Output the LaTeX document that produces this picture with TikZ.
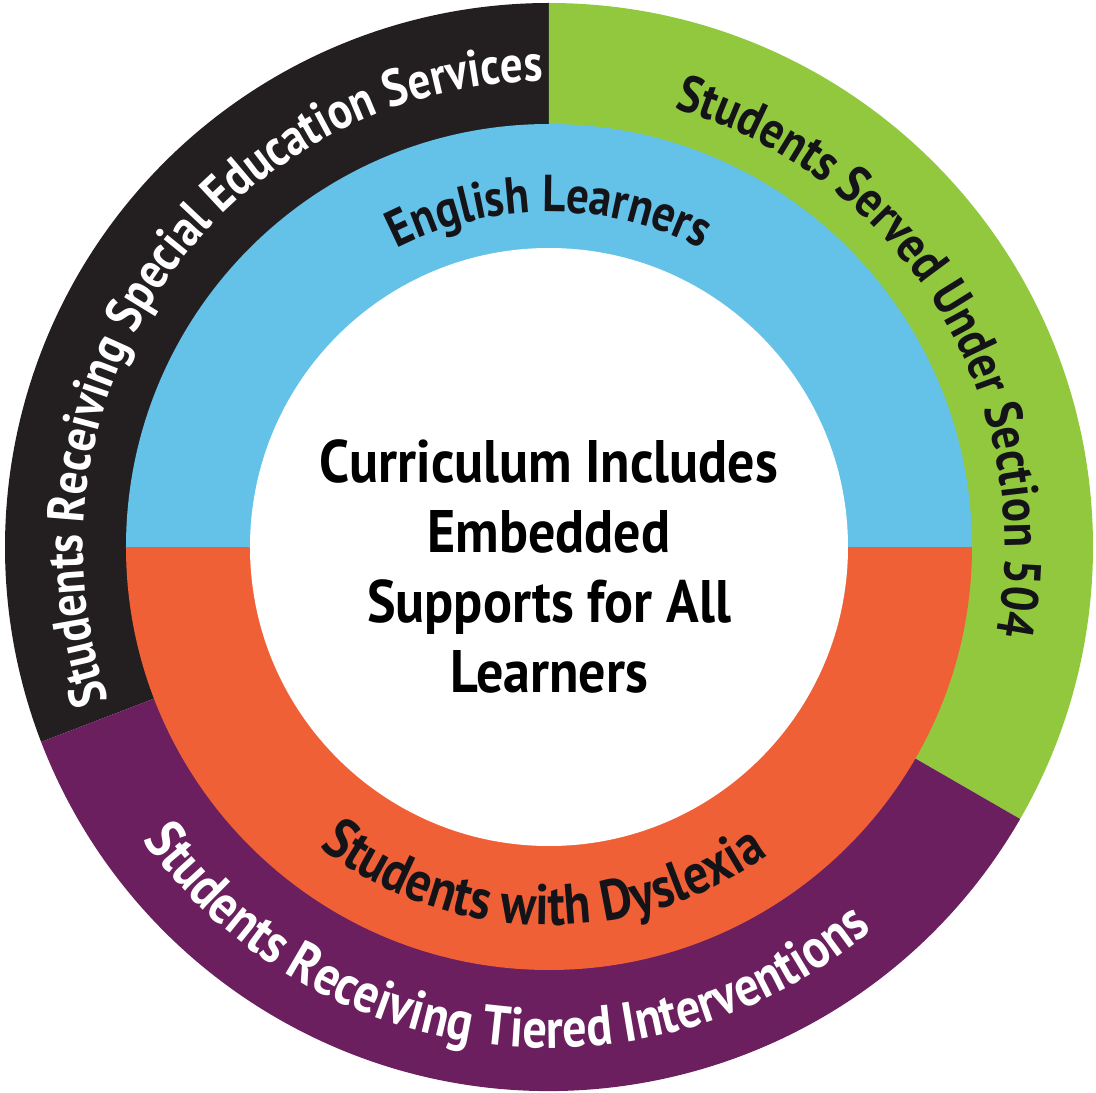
\documentclass[tikz,border=0pt]{standalone}
\usepackage{fontspec}
\setmainfont{PT Sans}
\newfontfamily\ringfont[FakeStretch=0.86]{PT Sans}
\newfontfamily\corefont[FakeStretch=0.9]{PT Sans}
\newcommand{\outerface}{\ringfont\bfseries\fontsize{52}{60}\selectfont}
\newcommand{\tierface}{\ringfont\bfseries\fontsize{56}{60}\selectfont}
\newcommand{\learnface}{\ringfont\bfseries\fontsize{52}{60}\selectfont}
\newcommand{\dysface}{\ringfont\bfseries\fontsize{57}{60}\selectfont}
\definecolor{segblack}{RGB}{35,31,32}
\definecolor{seggreen}{RGB}{146,200,62}
\definecolor{segpurple}{RGB}{107,31,94}
\definecolor{segblue}{RGB}{100,193,232}
\definecolor{segorange}{RGB}{240,96,55}
\definecolor{labeldark}{RGB}{20,20,24}
\usetikzlibrary{decorations.text}

\begin{document}
\begin{tikzpicture}[x=1pt,y=1pt,
  ringtext/.style 2 args={decorate,decoration={text along path,
    text align=center,text color=#1,text={#2}}}
  ]
  \useasboundingbox (-549,-546) rectangle (547,547);

  % the outer ring
  \fill[segblack] (0,0) -- (201:544) arc[start angle=201,end angle=90,radius=544] -- cycle;
  \fill[seggreen] (0,0) -- (90:544) arc[start angle=90,end angle=-30,radius=544] -- cycle;
  \fill[segpurple] (0,0) -- (-30:544) arc[start angle=-30,end angle=-159,radius=544] -- cycle;

  % the inner ring
  \fill[segblue] (0:423) arc[start angle=0,end angle=180,radius=423] -- cycle;
  \fill[segorange] (180:423) arc[start angle=180,end angle=360,radius=423] -- cycle;

  % the core
  \fill[white] (0,0) circle[radius=299];
  \node[align=center,inner sep=0pt,font=\corefont\bfseries\fontsize{60}{70}\selectfont] (core) at (0,-19)
    {Curriculum Includes\\Embedded\\Supports for All\\Learners};

  % the outer labels
  \path[ringtext={white}{|\outerface|Students Receiving Special Education Services}]
    (215:466) arc[start angle=215,end angle=75,radius=466];
  \path[ringtext={labeldark}{|\outerface|Students Served Under Section 504}]
    (100:456) arc[start angle=100,end angle=-37,radius=456];
  \path[ringtext={white}{|\tierface|Students Receiving Tiered Interventions}]
    (-172:501) arc[start angle=-172,end angle=-22,radius=501];

  % the inner labels
  \path[ringtext={labeldark}{|\learnface|English Learners}]
    (160:335) arc[start angle=160,end angle=20,radius=335];
  \path[ringtext={labeldark}{|\dysface|Students with Dyslexia}]
    (-161:378) arc[start angle=-161,end angle=-21,radius=378];
\end{tikzpicture}
\end{document}
